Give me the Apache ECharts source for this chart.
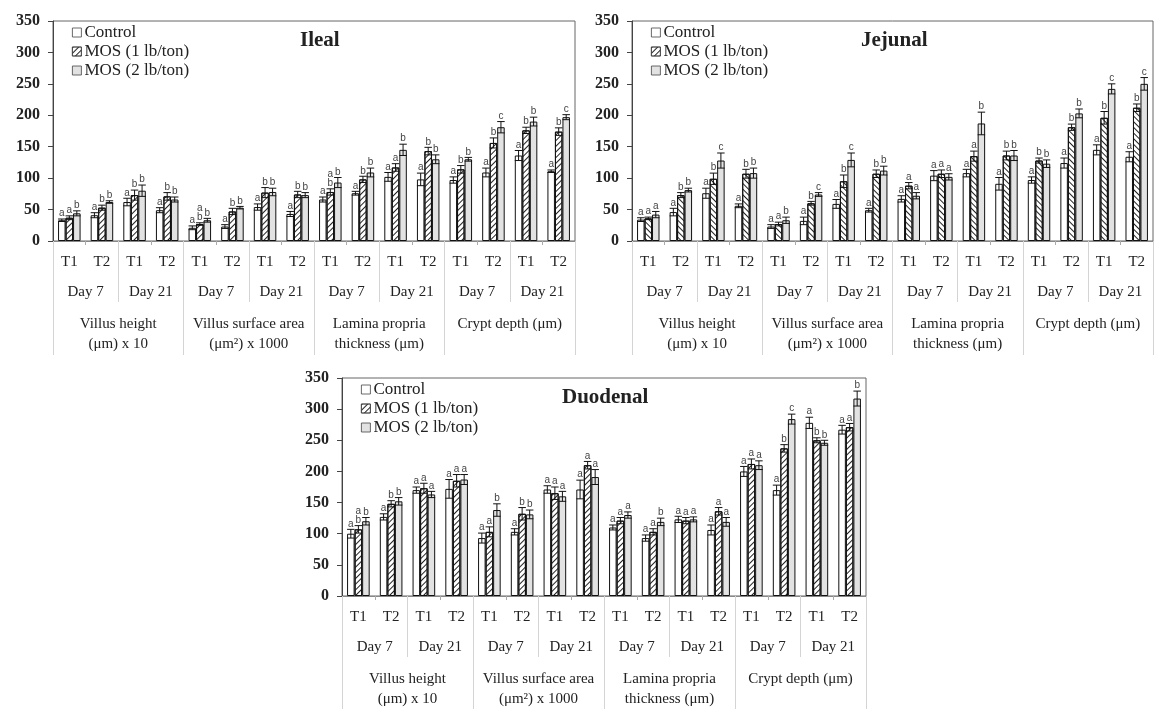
<!DOCTYPE html>
<html><head><meta charset="utf-8">
<script src="https://cdn.jsdelivr.net/npm/echarts@6/dist/echarts.min.js"></script>
<style>html,body{margin:0;padding:0;background:#fff}#c{width:1154px;height:709px}</style>
</head><body><div id="c"></div>
<script>
// ---------- data ----------
const seriesNames = ['Control', 'MOS (1 lb/ton)', 'MOS (2 lb/ton)'];
const tickLabels = ['T1','T2','T1','T2','T1','T2','T1','T2','T1','T2','T1','T2','T1','T2','T1','T2'];
const dayLabels = ['Day 7','Day 21','Day 7','Day 21','Day 7','Day 21','Day 7','Day 21'];
const measureLabels = ['Villus height\n(μm) x 10', 'Villus surface area\n(μm²) x 1000', 'Lamina propria\nthickness (μm)', 'Crypt depth (μm)'];
const yMin = 0, yMax = 350, yStep = 50;

// Ileal
const ilealControl = [33, 41, 62, 49, 21, 23, 54, 43, 66, 76, 102, 98, 97, 109, 136, 111];
const ilealMos1    = [37, 53, 73, 71, 27, 47, 77, 74, 78, 98, 117, 143, 114, 156, 176, 174];
const ilealMos2    = [44, 62, 80, 66, 33, 53, 78, 73, 93, 109, 145, 130, 130, 181, 190, 197];
const ilealErrControl = [2, 4, 6, 4, 3, 3, 5, 4, 4, 3, 7, 10, 5, 7, 8, 2];
const ilealErrMos1    = [3, 4, 8, 6, 2, 5, 8, 5, 5, 5, 6, 6, 6, 8, 5, 6];
const ilealErrMos2    = [4, 2, 9, 4, 3, 2, 6, 4, 8, 7, 9, 7, 3, 9, 7, 4];
const ilealLetControl = ['a','a','a','a','a','a','a','a','a','a','a','a','a','a','a','a'];
const ilealLetMos1    = ['a','b','b','b','a\nb','b','b','b','a\nb','b','a','b','b','b','b','b'];
const ilealLetMos2    = ['b','b','b','b','b','b','b','b','b','b','b','b','b','c','b','c'];

// Jejunal
const jejunalControl = [34, 46, 76, 56, 23, 32, 59, 49, 67, 104, 108, 91, 97, 124, 145, 134];
const jejunalMos1    = [36, 73, 99, 107, 27, 60, 95, 107, 88, 107, 135, 136, 128, 181, 196, 212];
const jejunalMos2    = [42, 81, 128, 108, 33, 74, 129, 112, 72, 102, 187, 136, 123, 203, 242, 250];
const jejunalErrControl = [3, 6, 8, 3, 3, 6, 7, 3, 5, 8, 6, 10, 5, 8, 8, 8];
const jejunalErrMos1    = [2, 4, 9, 7, 3, 3, 10, 6, 5, 6, 8, 7, 4, 5, 10, 6];
const jejunalErrMos2    = [5, 3, 12, 8, 5, 3, 11, 7, 5, 5, 18, 8, 6, 7, 8, 10];
const jejunalLetControl = ['a','a','a','a','a','a','a','a','a','a','a','a','a','a','a','a'];
const jejunalLetMos1    = ['a','b','b','b','a','b','b','b','a','a','a','b','b','b','b','b'];
const jejunalLetMos2    = ['a','b','c','b','b','c','c','b','a','a','b','b','b','b','c','c'];

// Duodenal
const duodenalControl = [100, 127, 170, 172, 93, 103, 171, 171, 110, 93, 123, 106, 200, 170, 278, 267];
const duodenalMos1    = [107, 148, 173, 185, 103, 132, 165, 210, 121, 103, 121, 136, 212, 237, 250, 271];
const duodenalMos2    = [120, 152, 163, 187, 138, 131, 160, 191, 130, 119, 123, 119, 210, 284, 246, 317];
const duodenalErrControl = [7, 5, 5, 15, 8, 5, 6, 15, 4, 5, 5, 8, 8, 8, 9, 7];
const duodenalErrMos1    = [6, 5, 8, 10, 8, 10, 10, 6, 5, 5, 5, 6, 8, 6, 4, 6];
const duodenalErrMos2    = [6, 6, 5, 8, 10, 7, 8, 12, 5, 6, 4, 7, 7, 8, 4, 12];
const duodenalLetControl = ['a','a','a','a','a','a','a','a','a','a','a','a','a','a','a','a'];
const duodenalLetMos1    = ['a\nb','b','a','a','a','b','a','a','a','a','a','a','a','b','b','a'];
const duodenalLetMos2    = ['b','b','a','a','b','b','a','a','a','b','a','a','a','c','b','b'];

// ---------- layout ----------
const SERIF = '"Liberation Serif", "Times New Roman", serif';
const BAR_FRAC = 0.23;
const panels = [
  { title: 'Ileal', left: 53, top: 21, width: 522, titleLeft: 300, titleTop: 30, legendLeft: 72, legendTop: 24, hatchRot: -Math.PI / 4,
    vals: [ilealControl, ilealMos1, ilealMos2], errs: [ilealErrControl, ilealErrMos1, ilealErrMos2], lets: [ilealLetControl, ilealLetMos1, ilealLetMos2] },
  { title: 'Jejunal', left: 632, top: 21, width: 521, titleLeft: 861, titleTop: 30, legendLeft: 651, legendTop: 24, hatchRot: Math.PI / 4,
    vals: [jejunalControl, jejunalMos1, jejunalMos2], errs: [jejunalErrControl, jejunalErrMos1, jejunalErrMos2], lets: [jejunalLetControl, jejunalLetMos1, jejunalLetMos2] },
  { title: 'Duodenal', left: 342, top: 378, width: 524, titleLeft: 562, titleTop: 387, legendLeft: 361, legendTop: 381, hatchRot: -Math.PI / 4,
    vals: [duodenalControl, duodenalMos1, duodenalMos2], errs: [duodenalErrControl, duodenalErrMos1, duodenalErrMos2], lets: [duodenalLetControl, duodenalLetMos1, duodenalLetMos2] }
];

const grid = [], xAxis = [], yAxis = [], series = [], legend = [], title = [];

panels.forEach((p, gi) => {
  grid.push({ left: p.left, top: p.top, width: p.width, height: 220, show: true, borderColor: '#666', borderWidth: 1, backgroundColor: 'transparent' });
  title.push({ text: p.title, left: p.titleLeft, top: p.titleTop, padding: 0,
    textStyle: { fontFamily: SERIF, fontWeight: 'bold', fontSize: 21, color: '#222' } });
  legend.push({ orient: 'vertical', left: p.legendLeft, top: p.legendTop, padding: 0, itemGap: 2,
    itemWidth: 9, itemHeight: 9, icon: 'rect', data: seriesNames, selectedMode: false,
    itemStyle: { borderColor: '#444', borderWidth: 0.8 },
    textStyle: { fontFamily: SERIF, fontSize: 17, color: '#222', lineHeight: 17, padding: [0, 0, 0, -2] } });
  const lblBase = { interval: 0, fontFamily: SERIF, fontSize: 15, color: '#222' };
  xAxis.push(
    { type: 'category', gridIndex: gi, data: tickLabels, position: 'bottom', boundaryGap: true,
      axisLine: { show: true, lineStyle: { color: '#888' } },
      axisTick: { show: true, interval: 0, length: 4, lineStyle: { color: '#aaa' } },
      axisLabel: Object.assign({ margin: 14 }, lblBase) },
    { type: 'category', gridIndex: gi, data: dayLabels, position: 'bottom', offset: 0, boundaryGap: true,
      axisLine: { show: false },
      axisTick: { show: true, interval: 0, length: 61, lineStyle: { color: '#d4d4d4' } },
      axisLabel: Object.assign({ margin: 44 }, lblBase) },
    { type: 'category', gridIndex: gi, data: measureLabels, position: 'bottom', offset: 0, boundaryGap: true,
      axisLine: { show: false },
      axisTick: { show: true, interval: 0, length: 114, lineStyle: { color: '#d4d4d4' } },
      axisLabel: Object.assign({ margin: 73, lineHeight: 20 }, lblBase) }
  );
  yAxis.push({ type: 'value', gridIndex: gi, min: yMin, max: yMax, interval: yStep,
    axisLine: { show: true, lineStyle: { color: '#444' } },
    axisTick: { show: true, length: 5, lineStyle: { color: '#444' } },
    splitLine: { show: false },
    axisLabel: { margin: 13, fontFamily: SERIF, fontWeight: 'bold', fontSize: 16, color: '#222' } });

  const fills = ['#ffffff', '#ffffff', '#e2e2e2'];
  const xi = gi * 3;
  seriesNames.forEach((name, s) => {
    const itemStyle = { color: fills[s], borderColor: '#111', borderWidth: 1 };
    if (s === 1) {
      itemStyle.decal = { symbol: 'rect', symbolSize: 1, color: '#222', dashArrayX: [1, 0], dashArrayY: [1, 2.2], rotation: p.hatchRot };
    }
    series.push({ type: 'bar', name, xAxisIndex: xi, yAxisIndex: gi, data: p.vals[s],
      barWidth: (BAR_FRAC * 100) + '%', barGap: '0%', itemStyle, silent: true, animation: false });
  });
  seriesNames.forEach((name, s) => {
    const errs = p.errs[s], lets = p.lets[s];
    series.push({ type: 'custom', xAxisIndex: xi, yAxisIndex: gi, z: 5, silent: true, animation: false,
      data: p.vals[s].map((v, i) => [i, v]),
      renderItem: function (params, api) {
        const idx = api.value(0), v = api.value(1);
        const c = api.coord([idx, v]);
        const band = api.size([1, 0])[0];
        const bw = band * BAR_FRAC;
        const x = c[0] + (s - 1) * bw;
        const yt = api.coord([idx, v + errs[idx]])[1];
        const yb = api.coord([idx, v - errs[idx]])[1];
        const cap = bw * 0.5;
        const ls = { stroke: '#111', lineWidth: 1 };
        return { type: 'group', children: [
          { type: 'line', shape: { x1: x, y1: yt, x2: x, y2: yb }, style: ls },
          { type: 'line', shape: { x1: x - cap, y1: yt, x2: x + cap, y2: yt }, style: ls },
          { type: 'line', shape: { x1: x - cap, y1: yb, x2: x + cap, y2: yb }, style: ls },
          { type: 'text', style: { text: lets[idx], x: x, y: yt - 1, align: 'center', verticalAlign: 'bottom',
              fill: '#444', font: '10px "Liberation Sans", Arial, sans-serif', lineHeight: 9 } }
        ] };
      } });
  });
});

const chart = echarts.init(document.getElementById('c'), null, { renderer: 'canvas' });
chart.setOption({ animation: false, backgroundColor: '#fff', title, legend, grid, xAxis, yAxis, series });
</script>
</body></html>
